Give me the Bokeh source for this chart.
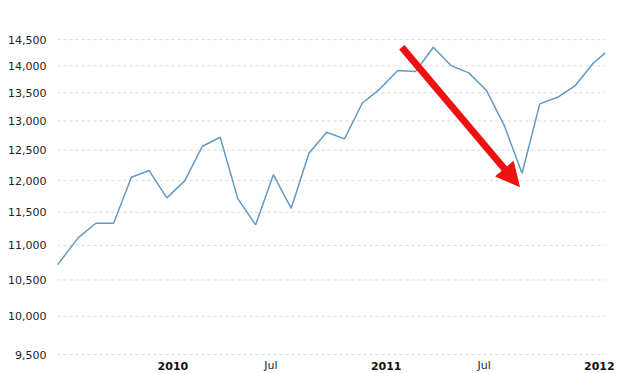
from bokeh.plotting import figure
from bokeh.models import (Range1d, FixedTicker, NumeralTickFormatter, Arrow, NormalHead,
                          LabelSet, ColumnDataSource)
from bokeh.core.properties import value
from bokeh.embed import file_html
from bokeh.resources import INLINE

# Monthly index (months after Aug 2009; first/last points are partial months)
month_pos = [-1.16, 0, 1, 2, 3, 4, 5, 6, 7, 8, 9, 10, 11, 12, 13, 14, 15,
             16, 17, 18, 19, 20, 21, 22, 23, 24, 25, 26, 27, 28, 29, 29.69]
prices = [10716, 11111, 11331, 11331, 12054, 12162, 11724, 11995, 12565, 12718,
          11708, 11307, 12097, 11561, 12447, 12803, 12691, 13312, 13573, 13910,
          13890, 14351, 14003, 13867, 13541, 12919, 12118, 13301, 13419, 13633,
          14047, 14245]

y_ticks = [9500, 10000, 10500, 11000, 11500, 12000, 12500, 13000, 13500, 14000, 14500]
year_pos = [5.34, 17.35, 29.35]
year_labels = ["2010", "2011", "2012"]
mid_pos = [10.86, 22.87]
mid_labels = ["Jul", "Jul"]

# Arrow (annotation) endpoints
arrow_x = [18.23, 24.85]
arrow_y = [14351, 11905]

FONT = "DejaVu Sans"

x0 = month_pos[0]
x1 = month_pos[-1]

p = figure(width=640, height=373, y_axis_type="log", output_backend="svg",
           toolbar_location=None, x_range=Range1d(x0, 31.67),
           y_range=Range1d(9261, 15078),
           min_border_left=57, min_border_right=0, min_border_top=10,
           min_border_bottom=0)
p.outline_line_color = None
p.background_fill_color = "white"
p.border_fill_color = "white"

p.xaxis.visible = False
p.xgrid.visible = False
p.ygrid.visible = False

ticker = FixedTicker(ticks=y_ticks)
p.yaxis.ticker = ticker
p.yaxis.formatter = NumeralTickFormatter(format="0,0")
p.yaxis.axis_line_color = None
p.yaxis.major_tick_line_color = None
p.yaxis.minor_tick_line_color = None
p.yaxis.major_label_standoff = 5
p.yaxis.major_label_text_font = FONT
p.yaxis.major_label_text_font_size = "11px"
p.yaxis.major_label_text_color = "#222222"

# dashed horizontal grid spanning the data extent
p.segment(x0=[x0] * len(y_ticks), x1=[x1] * len(y_ticks), y0=y_ticks, y1=y_ticks,
          line_color="#d9d9d9", line_dash="3 3", line_width=1)

p.line(month_pos, prices, line_color="#6399c2", line_width=1.5)

label_y = 9361
year_src = ColumnDataSource(dict(x=year_pos, y=[label_y] * len(year_pos), text=year_labels))
mid_src = ColumnDataSource(dict(x=mid_pos, y=[label_y] * len(mid_pos), text=mid_labels))
p.add_layout(LabelSet(x="x", y="y", text="text", source=year_src,
                      text_font=value(FONT), text_font_size="11px", text_font_style="bold",
                      text_align="center", text_baseline="middle", text_color="#111111"))
p.add_layout(LabelSet(x="x", y="y", text="text", source=mid_src,
                      text_font=value(FONT), text_font_size="11px",
                      text_align="center", text_baseline="middle", text_color="#222222"))

p.add_layout(Arrow(x_start=arrow_x[0], y_start=arrow_y[0],
                   x_end=arrow_x[1], y_end=arrow_y[1],
                   line_color="#ee1111", line_width=7, line_cap="butt",
                   end=NormalHead(size=23, fill_color="#ee1111",
                                  line_color="#ee1111")))

open("out.html", "w").write(file_html(p, INLINE))
